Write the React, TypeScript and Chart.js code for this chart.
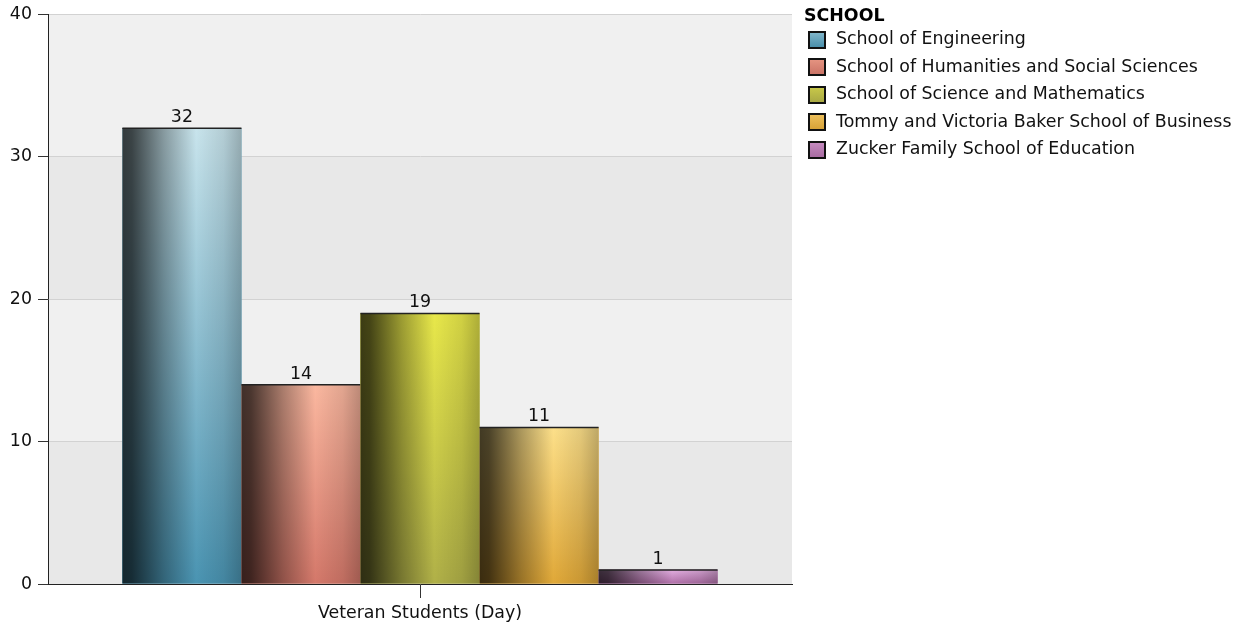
import React, { useEffect, useRef } from 'react';
import { Chart, registerables } from 'chart.js';

Chart.register(...registerables);

const categories = ['Veteran Students (Day)'];
const schools = [
  'School of Engineering',
  'School of Humanities and Social Sciences',
  'School of Science and Mathematics',
  'Tommy and Victoria Baker School of Business',
  'Zucker Family School of Education',
];
const values = [32, 14, 19, 11, 1];
const topColors = ['#c8e4ec', '#fbb8a0', '#e8e84a', '#fde08a', '#e2aee0'];
const bottomColors = ['#4a94b2', '#d4786a', '#b0b048', '#e0a838', '#b070a8'];
const yTickValues = [0, 10, 20, 30, 40];
const legendTitle = 'SCHOOL';

const FONT = "'DejaVu Sans', Verdana, sans-serif";
const FS = 17.4;

function hexToRgb(h: string) {
  const n = parseInt(h.slice(1), 16);
  return [(n >> 16) & 255, (n >> 8) & 255, n & 255];
}
function mix(a: string, b: string, t: number) {
  const A = hexToRgb(a), B = hexToRgb(b);
  const c = A.map((v, i) => Math.round(v + (B[i] - v) * t));
  return `rgb(${c[0]},${c[1]},${c[2]})`;
}

const bandPlugin = {
  id: 'bands',
  beforeDraw(chart: any) {
    const { ctx, chartArea, scales } = chart;
    const y = scales.y;
    ctx.save();
    for (let i = 0; i < yTickValues.length - 1; i++) {
      const y0 = y.getPixelForValue(yTickValues[i]);
      const y1 = y.getPixelForValue(yTickValues[i + 1]);
      ctx.fillStyle = i % 2 === 0 ? '#e8e8e8' : '#f0f0f0';
      ctx.fillRect(chartArea.left, y1, chartArea.right - chartArea.left, y0 - y1);
    }
    ctx.restore();
  },
};

const barShadePlugin = {
  id: 'barShade',
  afterDatasetsDraw(chart: any) {
    const { ctx } = chart;
    ctx.save();
    chart.data.datasets.forEach((ds: any, di: number) => {
      const meta = chart.getDatasetMeta(di);
      meta.data.forEach((el: any, idx: number) => {
        const { x, y, base, width } = el.getProps(['x', 'y', 'base', 'width'], true);
        const left = x - width / 2;
        const h = base - y;
        const vg = ctx.createLinearGradient(0, y, 0, base);
        vg.addColorStop(0, topColors[di]);
        vg.addColorStop(1, bottomColors[di]);
        ctx.fillStyle = vg;
        ctx.fillRect(left, y, width, h);
        const hg = ctx.createLinearGradient(left, 0, left + width, 0);
        hg.addColorStop(0, 'rgba(0,0,0,0.74)');
        hg.addColorStop(0.08, 'rgba(0,0,0,0.7)');
        hg.addColorStop(0.35, 'rgba(0,0,0,0.32)');
        hg.addColorStop(0.62, 'rgba(0,0,0,0)');
        hg.addColorStop(0.85, 'rgba(0,0,0,0.1)');
        hg.addColorStop(1, 'rgba(0,0,0,0.25)');
        ctx.fillStyle = hg;
        ctx.fillRect(left, y, width, h);
        ctx.fillStyle = '#222';
        ctx.fillRect(left, y - 0.5, width, 1.5);
        ctx.fillStyle = '#111';
        ctx.font = `${FS}px ${FONT}`;
        ctx.textAlign = 'center';
        ctx.textBaseline = 'alphabetic';
        ctx.fillText(String(ds.data[idx]), x, y - 6);
      });
    });
    ctx.restore();
  },
};

const legendPlugin = {
  id: 'customLegend',
  afterDraw(chart: any) {
    const { ctx } = chart;
    ctx.save();
    ctx.fillStyle = '#000';
    ctx.font = `bold ${FS}px ${FONT}`;
    ctx.textAlign = 'left';
    ctx.textBaseline = 'middle';
    ctx.fillText(legendTitle, 804, 16);
    ctx.font = `${FS}px ${FONT}`;
    chart.data.datasets.forEach((ds: any, i: number) => {
      const cy = 39.5 + i * 27.6;
      const bx = 809, by = Math.round(cy - 8), bs = 16;
      const g = ctx.createLinearGradient(0, by, 0, by + bs);
      g.addColorStop(0, mix(topColors[i], bottomColors[i], 0.55));
      g.addColorStop(1, mix(bottomColors[i], '#000000', 0.05));
      ctx.fillStyle = g;
      ctx.fillRect(bx, by, bs, bs);
      ctx.strokeStyle = '#111';
      ctx.lineWidth = 2;
      ctx.strokeRect(bx, by, bs, bs);
      ctx.fillStyle = '#111';
      ctx.fillText(ds.label, 836, cy);
    });
    ctx.restore();
  },
};

export default function App() {
  const ref = useRef<HTMLCanvasElement | null>(null);
  useEffect(() => {
    if (!ref.current) return;
    const chart = new Chart(ref.current, {
      type: 'bar',
      data: {
        labels: categories,
        datasets: schools.map((s, i) => ({
          label: s,
          data: [values[i]],
          backgroundColor: bottomColors[i],
          borderWidth: 0,
        })),
      },
      options: {
        animation: false,
        responsive: false,
        maintainAspectRatio: false,
        layout: { padding: { top: 14, right: 448, left: 0, bottom: 0 } },
        datasets: { bar: { categoryPercentage: 0.8, barPercentage: 1 } } as any,
        plugins: { legend: { display: false }, tooltip: { enabled: false } },
        scales: {
          x: {
            grid: { display: true, drawOnChartArea: false, drawTicks: true, tickLength: 14, offset: false, color: '#333', tickColor: '#333' },
            border: { display: true, color: '#222', width: 1 },
            ticks: { color: '#111', font: { size: FS, family: FONT }, padding: 5 },
            afterFit: (s: any) => { s.height = 45; s.paddingLeft = 0; s.paddingRight = 0; },
          },
          y: {
            min: 0,
            max: 40,
            ticks: { stepSize: 10, color: '#111', font: { size: FS, family: FONT }, padding: 6 },
            grid: { color: '#d2d2d2', tickColor: '#333', tickLength: 10 },
            border: { display: true, color: '#222', width: 1 },
            afterFit: (s: any) => { s.width = 48; s.paddingTop = 0; s.paddingBottom = 0; },
          },
        },
      } as any,
      plugins: [bandPlugin, barShadePlugin, legendPlugin],
    });
    return () => chart.destroy();
  }, []);
  return (
    <div style={{ position: 'absolute', left: 0, top: 0, width: 1240, height: 629, background: '#fff' }}>
      <canvas ref={ref} width={1240} height={629} style={{ width: 1240, height: 629, display: 'block' }} />
    </div>
  );
}
